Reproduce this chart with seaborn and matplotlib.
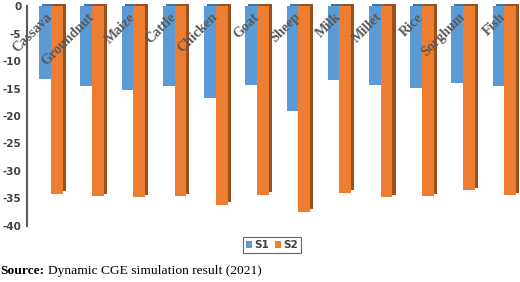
import pandas as pd
import numpy as np
import matplotlib
matplotlib.use("Agg")
import matplotlib.pyplot as plt
import matplotlib.transforms as mtransforms
import seaborn as sns

categories = ["Cassava", "Groundnut", "Maize", "Cattle", "Chicken", "Goat",
              "Sheep", "Milk", "Millet", "Rice", "Sorghum", "Fish"]
s1 = [-13.3, -14.5, -15.2, -14.5, -16.7, -14.3, -19.1, -13.5, -14.3, -14.8, -13.9, -14.6]
s2 = [-34.2, -34.6, -34.8, -34.6, -36.2, -34.4, -37.5, -34.0, -34.8, -34.6, -33.5, -34.5]
series = ["S1", "S2"]
yticks = [0, -5, -10, -15, -20, -25, -30, -35, -40]

df = pd.DataFrame({
    "category": categories * 2,
    "series": ["S1"] * len(categories) + ["S2"] * len(categories),
    "value": s1 + s2,
})

sns.set_style("white")
plt.rcParams["axes.unicode_minus"] = False

fig = plt.figure(figsize=(5.2, 2.82), dpi=100)
ax = fig.add_axes([0.052, 0.2, 0.948, 0.777])

palette = {"S1": "#5B9BD5", "S2": "#ED7D31"}
side = {"S1": "#41719C", "S2": "#9C4F1B"}
sns.barplot(data=df, x="category", y="value", hue="series", hue_order=series,
            palette=palette, width=0.57, saturation=1, linewidth=0, ax=ax)

# fake 3D depth: darker copy of each bar, nudged right and up
for cont, name in zip(ax.containers, series):
    for p in cont.patches:
        p.set_zorder(2)
        ax.bar(p.get_x() + 0.075, p.get_height(), width=p.get_width(),
               bottom=0.45, align="edge", color=side[name], linewidth=0,
               zorder=1.5, clip_on=False)

ax.set_ylim(-40, 0)
ax.set_xlim(-0.58, 11.38)
ax.set_yticks(yticks)
ax.set_xlabel("")
ax.set_ylabel("")

ax.spines["bottom"].set_position(("data", 0))
ax.spines["bottom"].set_visible(False)
ax.spines["top"].set_visible(False)
ax.spines["right"].set_visible(False)
ax.spines["left"].set_color("#595959")
ax.spines["left"].set_linewidth(1.5)
ax.tick_params(axis="both", length=0)
ax.tick_params(axis="y", pad=4, labelsize=7.5, labelcolor="#404040")
for t in ax.get_yticklabels():
    t.set_fontweight("bold")

ax.set_xticks(range(len(categories)))
ax.set_xticklabels(categories, rotation=45, ha="right", va="top",
                   rotation_mode="anchor", family="Liberation Serif",
                   fontweight="bold", fontsize=10.2, color="#595959")
ax.tick_params(axis="x", pad=3)
ax.xaxis.set_zorder(5)
shift = mtransforms.ScaledTranslation(-5 / 100, 0, fig.dpi_scale_trans)
for t in ax.get_xticklabels():
    t.set_transform(t.get_transform() + shift)

ax.legend(loc="center", bbox_to_anchor=(0.523, 0.131), bbox_transform=fig.transFigure,
          ncol=2, frameon=True, fancybox=False, edgecolor="#404040",
          handlelength=0.6, handleheight=0.6, handletextpad=0.25, columnspacing=0.5,
          borderpad=0.3, fontsize=7.5, title=None)
leg = ax.get_legend()
leg.get_frame().set_linewidth(0.8)
for t in leg.get_texts():
    t.set_color("#404040")
    t.set_fontweight("bold")

src = fig.text(0.0, 0.03, "Source:", family="Liberation Serif", fontweight="bold",
               fontsize=9.7, color="black")
fig.canvas.draw()
bb = src.get_window_extent().transformed(fig.transFigure.inverted())
fig.text(bb.x1 + 0.008, 0.03, "Dynamic CGE simulation result (2021)",
         family="Liberation Serif", fontsize=9.7, color="black")

fig.savefig("out.png", dpi=100)
